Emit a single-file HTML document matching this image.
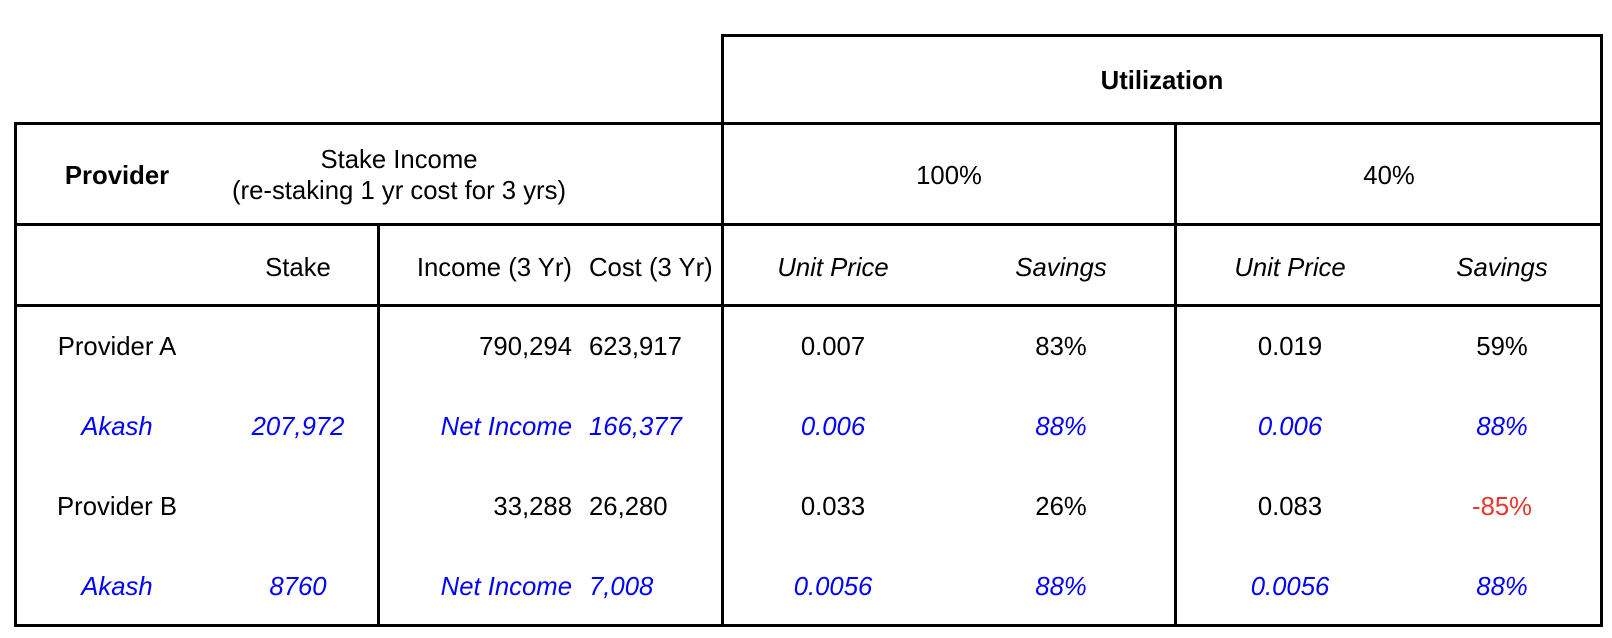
<!DOCTYPE html>
<html><head><meta charset="utf-8">
<style>
body{margin:0;width:1612px;height:638px;background:#fff;position:relative;overflow:hidden;font-family:"Liberation Sans",Arial,sans-serif;font-size:25.7px;color:#000}
.l{position:absolute;background:#000}
.t{position:absolute;white-space:nowrap;line-height:30px;height:30px}
.c{transform:translateX(-50%)}
.r{transform:translateX(-100%)}
.b{color:#0000ff;font-style:italic}
.i{font-style:italic}
.red{color:#e8372c}
</style></head><body>
<!-- borders -->
<div class="l" style="left:721px;top:34px;width:882px;height:3px"></div>
<div class="l" style="left:721px;top:34px;width:3px;height:593px"></div>
<div class="l" style="left:1600px;top:34px;width:3px;height:593px"></div>
<div class="l" style="left:14px;top:122px;width:1589px;height:3px"></div>
<div class="l" style="left:14px;top:122px;width:3px;height:505px"></div>
<div class="l" style="left:14px;top:223px;width:1589px;height:3px"></div>
<div class="l" style="left:14px;top:304px;width:1589px;height:3px"></div>
<div class="l" style="left:14px;top:624px;width:1589px;height:3px"></div>
<div class="l" style="left:377px;top:223px;width:3px;height:404px"></div>
<div class="l" style="left:1174px;top:122px;width:3px;height:505px"></div>

<!-- headers -->
<div class="t c" style="left:1162px;top:66px;font-weight:bold">Utilization</div>
<div class="t c" style="left:117px;top:161px;font-weight:bold">Provider</div>
<div class="t c" style="left:399px;top:145px">Stake Income</div>
<div class="t c" style="left:399px;top:176px">(re-staking 1 yr cost for 3 yrs)</div>
<div class="t c" style="left:949px;top:161px">100%</div>
<div class="t c" style="left:1389px;top:161px">40%</div>

<div class="t c" style="left:298px;top:253px">Stake</div>
<div class="t r" style="left:572px;top:253px">Income (3 Yr)</div>
<div class="t" style="left:589px;top:253px">Cost (3 Yr)</div>
<div class="t c i" style="left:833px;top:253px">Unit Price</div>
<div class="t c i" style="left:1061px;top:253px">Savings</div>
<div class="t c i" style="left:1290px;top:253px">Unit Price</div>
<div class="t c i" style="left:1502px;top:253px">Savings</div>

<!-- row provider A -->
<div class="t c" style="left:117px;top:332px">Provider A</div>
<div class="t r" style="left:572px;top:332px">790,294</div>
<div class="t" style="left:589px;top:332px">623,917</div>
<div class="t c" style="left:833px;top:332px">0.007</div>
<div class="t c" style="left:1061px;top:332px">83%</div>
<div class="t c" style="left:1290px;top:332px">0.019</div>
<div class="t c" style="left:1502px;top:332px">59%</div>

<!-- akash row 1 -->
<div class="t c b" style="left:117px;top:412px">Akash</div>
<div class="t c b" style="left:298px;top:412px">207,972</div>
<div class="t r b" style="left:572px;top:412px">Net Income</div>
<div class="t b" style="left:589px;top:412px">166,377</div>
<div class="t c b" style="left:833px;top:412px">0.006</div>
<div class="t c b" style="left:1061px;top:412px">88%</div>
<div class="t c b" style="left:1290px;top:412px">0.006</div>
<div class="t c b" style="left:1502px;top:412px">88%</div>

<!-- provider B -->
<div class="t c" style="left:117px;top:492px">Provider B</div>
<div class="t r" style="left:572px;top:492px">33,288</div>
<div class="t" style="left:589px;top:492px">26,280</div>
<div class="t c" style="left:833px;top:492px">0.033</div>
<div class="t c" style="left:1061px;top:492px">26%</div>
<div class="t c" style="left:1290px;top:492px">0.083</div>
<div class="t c red" style="left:1502px;top:492px">-85%</div>

<!-- akash row 2 -->
<div class="t c b" style="left:117px;top:572px">Akash</div>
<div class="t c b" style="left:298px;top:572px">8760</div>
<div class="t r b" style="left:572px;top:572px">Net Income</div>
<div class="t b" style="left:589px;top:572px">7,008</div>
<div class="t c b" style="left:833px;top:572px">0.0056</div>
<div class="t c b" style="left:1061px;top:572px">88%</div>
<div class="t c b" style="left:1290px;top:572px">0.0056</div>
<div class="t c b" style="left:1502px;top:572px">88%</div>
</body></html>
